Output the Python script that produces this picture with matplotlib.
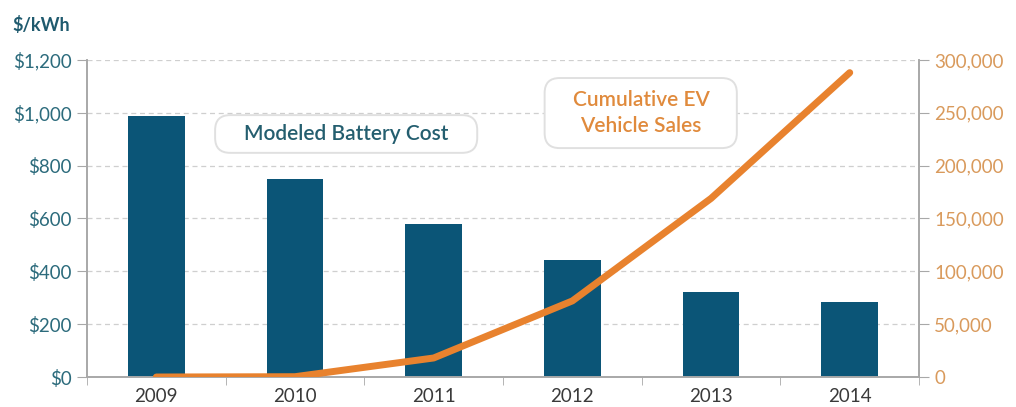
import matplotlib
matplotlib.use("Agg")
import matplotlib.pyplot as plt
from matplotlib.patches import FancyBboxPatch
from matplotlib.ticker import FuncFormatter, FixedLocator

plt.rcParams['font.family'] = ['Lato', 'DejaVu Sans']

# data
years = ["2009", "2010", "2011", "2012", "2013", "2014"]
battery_cost = [988, 749, 579, 443, 322, 284]          # $/kWh
ev_sales = [0, 300, 18000, 72000, 169000, 288000]     # cumulative vehicles
cost_ticks = [0, 200, 400, 600, 800, 1000, 1200]
sales_ticks = [0, 50000, 100000, 150000, 200000, 250000, 300000]

bar_color = "#0b5577"
line_color = "#e8822e"
teal_text = "#2c6b7c"
orange_text = "#d99a5c"
spine_gray = "#a8a8a8"

fig = plt.figure(figsize=(10.16, 4.07), dpi=100)
ax = fig.add_axes([0.0856, 0.0737, 0.819, 0.779])
ax2 = ax.twinx()

x = list(range(len(years)))
ax.bar(x, battery_cost, width=0.41, color=bar_color, zorder=2)
ax2.plot(x, ev_sales, color=line_color, linewidth=5, solid_capstyle="round", zorder=3)

ax.set_xlim(-0.5, 5.5)
ax.set_ylim(0, 1200)
ax2.set_ylim(0, 300000)

# grid
for t in cost_ticks[1:]:
    ax.axhline(t, color="#cfcfcf", linestyle=(0, (4, 3)), linewidth=0.9, zorder=0)

ax.set_yticks(cost_ticks)
ax.yaxis.set_major_formatter(FuncFormatter(lambda v, p: "${:,.0f}".format(v)))
ax2.set_yticks(sales_ticks)
ax2.yaxis.set_major_formatter(FuncFormatter(lambda v, p: "{:,.0f}".format(v)))

ax.set_xticks(x)
ax.set_xticklabels(years)
ax.xaxis.set_minor_locator(FixedLocator([i + 0.5 for i in range(-1, 6)]))
ax.tick_params(axis="x", which="major", length=0, pad=8, labelsize=13.5, labelcolor="#3a3a3a")
ax.tick_params(axis="x", which="minor", length=6, color=spine_gray, direction="out")
ax.tick_params(axis="y", length=7, color=spine_gray, labelsize=13.5, labelcolor=teal_text, pad=4)
ax2.tick_params(axis="y", length=7, color=spine_gray, labelsize=13.5, labelcolor=orange_text, pad=4)

for a in (ax, ax2):
    a.spines["top"].set_visible(False)
    for s in ("left", "right", "bottom"):
        a.spines[s].set_color(spine_gray)
        a.spines[s].set_linewidth(1.2)

ax.set_zorder(1)
ax2.set_zorder(2)
ax2.patch.set_visible(False)

fig.text(0.012, 0.938, "$/kWh", fontsize=13, fontweight="bold", color="#1f5a6e",
         ha="left", va="center")

# rounded label boxes (axes coords, aspect-corrected corners)
aspect = (0.819 * 1016) / (0.779 * 407)
for (x0, y0, x1, y1) in [(0.154, 0.707, 0.469, 0.826), (0.550, 0.722, 0.781, 0.943)]:
    box = FancyBboxPatch((x0, y0), x1 - x0, y1 - y0, transform=ax2.transAxes,
                         boxstyle="round,pad=0,rounding_size=0.018", mutation_aspect=aspect,
                         facecolor="white", edgecolor="#e0e0e0", linewidth=1.4, zorder=4)
    ax2.add_patch(box)

ax2.text(0.311, 0.767, "Modeled Battery Cost", transform=ax2.transAxes, fontsize=15,
         fontweight="semibold", color="#245e6f", ha="center", va="center", zorder=5)
ax2.text(0.666, 0.833, "Cumulative EV\nVehicle Sales", transform=ax2.transAxes, fontsize=15,
         fontweight="semibold", color="#e08a3c", ha="center", va="center", zorder=5,
         linespacing=1.35)

fig.savefig("out.png", dpi=100)
